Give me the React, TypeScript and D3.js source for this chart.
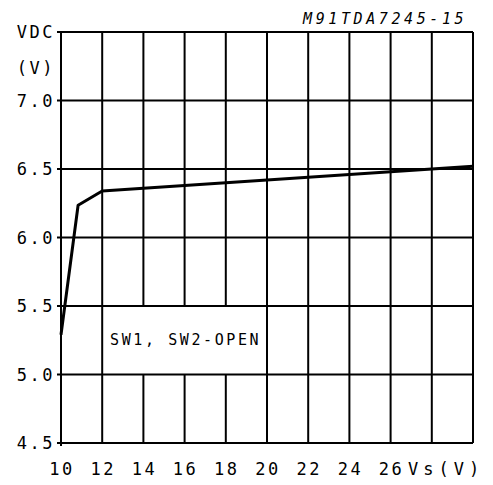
import * as d3 from "d3";

const xTicks = [10, 12, 14, 16, 18, 20, 22, 24, 26];
const xGrid = [10, 12, 14, 16, 18, 20, 22, 24, 26, 28, 30];
const yTicks = [7.0, 6.5, 6.0, 5.5, 5.0, 4.5];
const yGrid = [7.5, 7.0, 6.5, 6.0, 5.5, 5.0, 4.5];
const vsVolts = [10, 10.83, 12, 30];
const vdcVolts = [5.29, 6.235, 6.34, 6.52];
const note = "SW1, SW2-OPEN";
const title = "M91TDA7245-15";

const width = 493;
const height = 485;
const marginLeft = 61;
const marginRight = 20;
const marginTop = 32;
const marginBottom = 42;

export default function App() {
  const x = d3.scaleLinear().domain([10, 30]).range([marginLeft, width - marginRight]);
  const y = d3.scaleLinear().domain([4.5, 7.5]).range([height - marginBottom, marginTop]);

  const line = d3
    .line<number>()
    .x((_, i) => x(vsVolts[i]))
    .y((d) => y(d));

  const font = "'DejaVu Sans Mono', monospace";

  // the note sits in a gap where the 14..18 verticals are cut
  const gapTop = y(5.5);
  const gapBottom = y(5.0);

  return (
    <svg
      width={width}
      height={height}
      style={{ position: "fixed", left: 0, top: 0, background: "#fff" }}
    >
      <g stroke="#000" strokeWidth={2} fill="none">
        {xGrid.map((v) =>
          v > 12 && v < 20 ? (
            <g key={v}>
              <line x1={x(v)} x2={x(v)} y1={y(7.5)} y2={gapTop} />
              <line x1={x(v)} x2={x(v)} y1={gapBottom} y2={y(4.5)} />
            </g>
          ) : (
            <line key={v} x1={x(v)} x2={x(v)} y1={y(7.5)} y2={y(4.5) + (v === 10 ? 3 : 0)} />
          )
        )}
        {yGrid.map((v) => (
          <line key={v} x1={x(10) - 4} x2={x(30)} y1={y(v)} y2={y(v)} />
        ))}
      </g>
      <path d={line(vdcVolts) ?? ""} fill="none" stroke="#000" strokeWidth={3} strokeLinejoin="round" />

      <g fontFamily={font} fontSize={17} letterSpacing={2.5} fill="#000">
        {yTicks.map((v) => (
          <text key={v} x={x(10) - 6} y={y(v) + 6} textAnchor="end">
            {v.toFixed(1)}
          </text>
        ))}
        <text x={x(10) - 6} y={y(7.5) + 6} textAnchor="end">VDC</text>
        <text x={x(10) - 6} y={y(7.25) + 8} textAnchor="end">(V)</text>
        {xTicks.map((v) => (
          <text key={v} x={x(v) + 1} y={height - 10} textAnchor="middle">
            {v}
          </text>
        ))}
        <text x={408} y={height - 10} letterSpacing={5}>Vs(V)</text>
      </g>

      <text
        x={110}
        y={(gapTop + gapBottom) / 2 + 5}
        fontFamily={font}
        fontSize={15}
        letterSpacing={2.6}
      >
        {note}
      </text>

      <text
        x={303}
        y={24}
        fontFamily={font}
        fontSize={15}
        fontStyle="italic"
        letterSpacing={3.6}
      >
        {title}
      </text>
    </svg>
  );
}
